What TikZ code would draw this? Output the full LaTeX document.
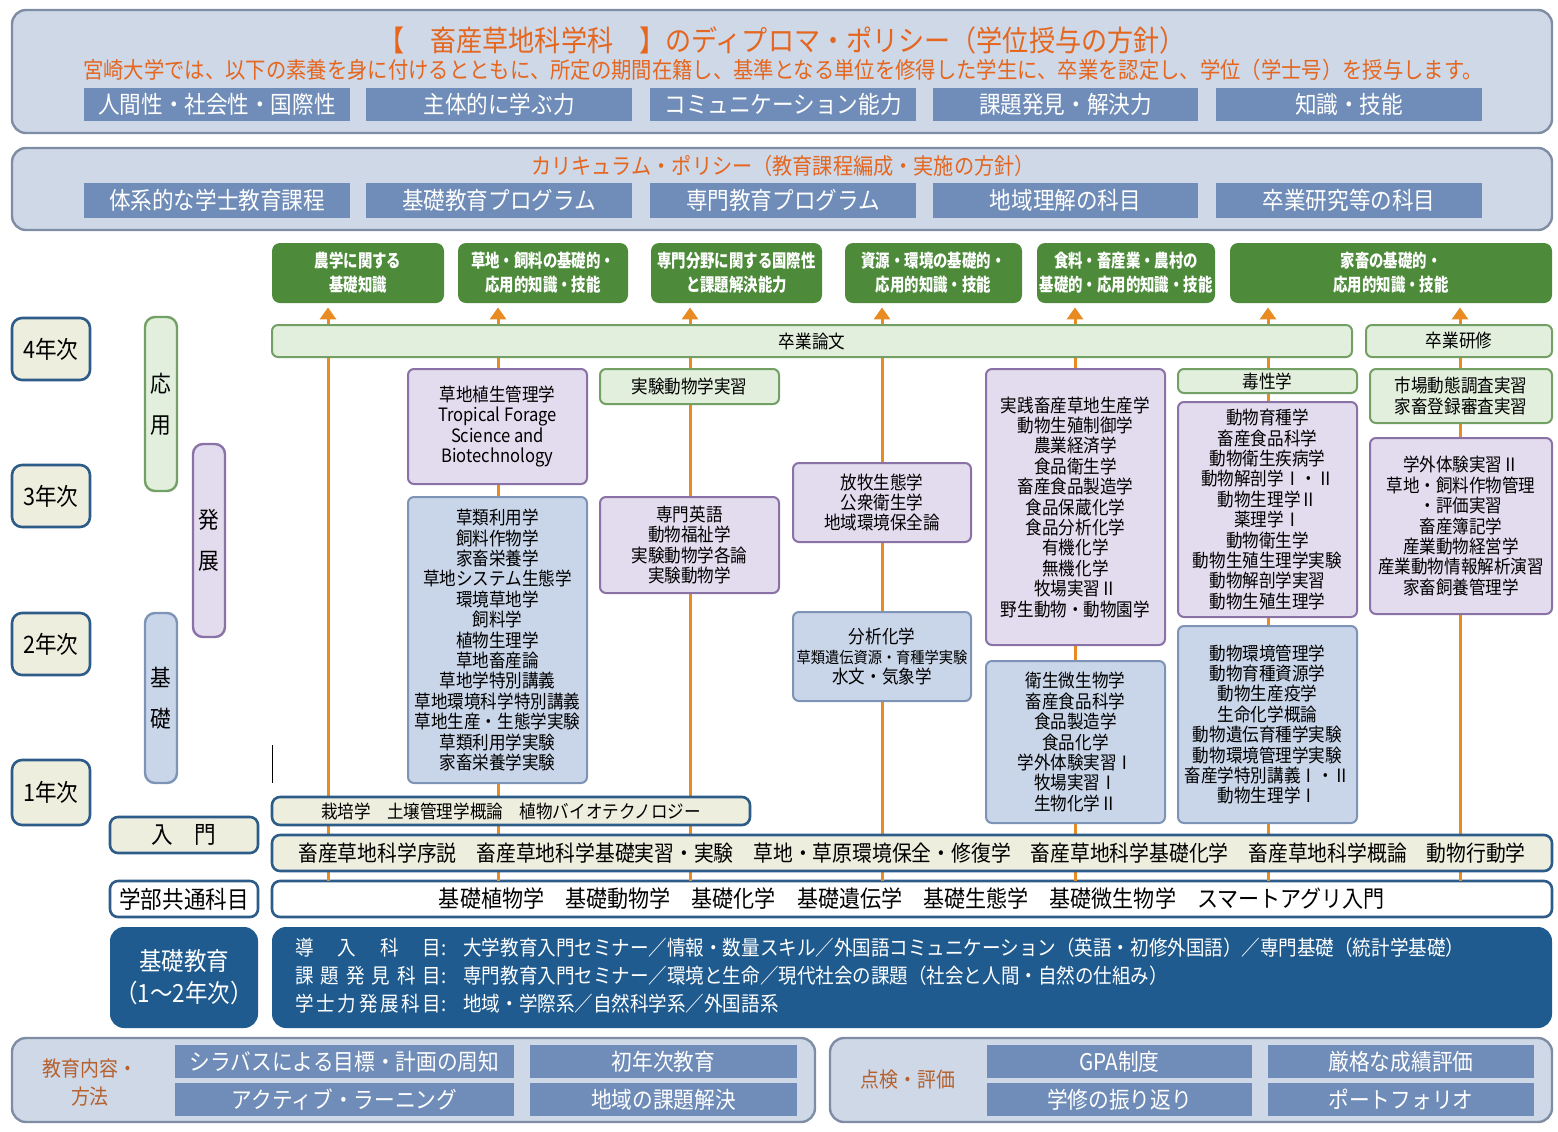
\documentclass[tikz,border=0pt]{standalone}
\usepackage{fontspec}
\setmainfont{Noto Sans CJK JP}[FakeStretch=0.9]
\newfontfamily\narrowfont{Noto Sans CJK JP}[FakeStretch=0.8]
\usetikzlibrary{arrows.meta,fit}
\definecolor{panelfill}{HTML}{CFD8E7}
\definecolor{panelline}{HTML}{7E8CA4}
\definecolor{itemblue}{HTML}{6F8DB8}
\definecolor{dporange}{HTML}{E4661F}
\definecolor{outgreen}{HTML}{4D8B3B}
\definecolor{feedorange}{HTML}{E88B22}
\definecolor{thesisfill}{HTML}{E2EFDD}
\definecolor{thesisline}{HTML}{73A064}
\definecolor{advfill}{HTML}{E3DCEE}
\definecolor{advline}{HTML}{8A72A6}
\definecolor{basicfill}{HTML}{C9D5E8}
\definecolor{basicline}{HTML}{7D94B6}
\definecolor{creamfill}{HTML}{EEEEDF}
\definecolor{navyline}{HTML}{2D5C88}
\definecolor{darkblue}{HTML}{1F5B8F}
\definecolor{brownorange}{HTML}{B5612F}

\begin{document}
\begin{tikzpicture}[
  x=0.5pt,
  y=-0.5pt,
  line join=round,
  panel/.style={draw=panelline,fill=panelfill,line width=1.2pt,rounded corners=7pt,inner sep=0pt},
  policyitem/.style={fill=itemblue,inner sep=0pt},
  itemtext/.style={text=white,inner sep=0pt,font=\fontsize{12}{14}\selectfont},
  headline/.style={text=dporange,inner sep=0pt},
  outcome/.style={fill=outgreen,rounded corners=4pt,inner sep=0pt},
  outtext/.style={text=white,inner sep=0pt,align=center,font=\narrowfont\bfseries\fontsize{9}{12}\selectfont},
  thesis/.style={draw=thesisline,fill=thesisfill,line width=1pt,rounded corners=3pt,inner sep=0pt},
  advanced/.style={thesis,draw=advline,fill=advfill},
  basic/.style={thesis,draw=basicline,fill=basicfill},
  coursetext/.style={inner sep=0pt,align=center,font=\fontsize{9.2}{10.2}\selectfont},
  stagebar/.style={line width=1.2pt,rounded corners=5pt,inner sep=0pt},
  stagetext/.style={inner sep=0pt,align=center,font=\fontsize{11.5}{20.5}\selectfont},
  year/.style={draw=navyline,fill=creamfill,line width=1.3pt,rounded corners=5pt,inner sep=0pt},
  yeartext/.style={inner sep=0pt,font=\fontsize{12}{14}\selectfont},
  intro/.style={draw=navyline,fill=creamfill,line width=1.3pt,rounded corners=4pt,inner sep=0pt},
  introtext/.style={inner sep=0pt,font=\fontsize{11}{13}\selectfont},
  common/.style={intro,fill=white},
  general/.style={fill=darkblue,rounded corners=7pt,inner sep=0pt},
  generaltext/.style={text=white,inner sep=0pt,align=left,font=\fontsize{10.3}{14}\selectfont},
  method/.style={text=brownorange,inner sep=0pt,align=center,font=\fontsize{10.5}{14}\selectfont},
  feed/.style={draw=feedorange,line width=1.5pt,-{Triangle[width=8pt,length=6pt]},shorten >=2pt}
]
  \useasboundingbox (0,0) rectangle (1558,1131);

  % Diploma policy panel
  \node[panel,fit={(12,10) (1552,133)}] (dp) {};
  \node[headline,font=\fontsize{14.5}{16}\selectfont] (dptitle) at (782,40) {【　畜産草地科学科　】のディプロマ・ポリシー（学位授与の方針）};
  \node[headline,font=\fontsize{11.3}{13}\selectfont] (dplead) at (783,70) {宮崎大学では、以下の素養を身に付けるとともに、所定の期間在籍し、基準となる単位を修得した学生に、卒業を認定し、学位（学士号）を授与します。};
  \node[policyitem,fit={(84,88) (350,121)},label={[itemtext]center:人間性・社会性・国際性}] (dp1) {};
  \node[policyitem,fit={(366,88) (632,121)},label={[itemtext]center:主体的に学ぶ力}] (dp2) {};
  \node[policyitem,fit={(650,88) (916,121)},label={[itemtext]center:コミュニケーション能力}] (dp3) {};
  \node[policyitem,fit={(933,88) (1198,121)},label={[itemtext]center:課題発見・解決力}] (dp4) {};
  \node[policyitem,fit={(1216,88) (1482,121)},label={[itemtext]center:知識・技能}] (dp5) {};

  % Curriculum policy panel
  \node[panel,fit={(12,148) (1552,230)}] (cp) {};
  \node[headline,font=\fontsize{11.2}{13}\selectfont] (cptitle) at (783,166) {カリキュラム・ポリシー（教育課程編成・実施の方針）};
  \node[policyitem,fit={(84,183) (350,218)},label={[itemtext]center:体系的な学士教育課程}] (cp1) {};
  \node[policyitem,fit={(366,183) (632,218)},label={[itemtext]center:基礎教育プログラム}] (cp2) {};
  \node[policyitem,fit={(650,183) (916,218)},label={[itemtext]center:専門教育プログラム}] (cp3) {};
  \node[policyitem,fit={(933,183) (1198,218)},label={[itemtext]center:地域理解の科目}] (cp4) {};
  \node[policyitem,fit={(1216,183) (1482,218)},label={[itemtext]center:卒業研究等の科目}] (cp5) {};

  % Learning outcomes
  \node[outcome,fit={(272,243) (444,303)},label={[outtext]center:{農学に関する\\基礎知識}}] (out1) {};
  \node[outcome,fit={(458,243) (628,303)},label={[outtext]center:{草地・飼料の基礎的・\\応用的知識・技能}}] (out2) {};
  \node[outcome,fit={(651,243) (822,303)},label={[outtext]center:{専門分野に関する国際性\\と課題解決能力}}] (out3) {};
  \node[outcome,fit={(845,243) (1022,303)},label={[outtext]center:{資源・環境の基礎的・\\応用的知識・技能}}] (out4) {};
  \node[outcome,fit={(1037,243) (1215,303)},label={[outtext]center:{食料・畜産業・農村の\\基礎的・応用的知識・技能}}] (out5) {};
  \node[outcome,fit={(1230,243) (1552,303)},label={[outtext]center:{家畜の基礎的・\\応用的知識・技能}}] (out6) {};

  % Faculty-wide row, where the feeds start
  \node[common,fit={(272,881) (1552,917)},label={[introtext,font=\fontsize{11.7}{14}\selectfont]center:基礎植物学　基礎動物学　基礎化学　基礎遺伝学　基礎生態学　基礎微生物学　スマートアグリ入門}] (kyotsu) {};

  % Orange feeds run behind the course boxes
  \foreach \x/\o [count=\i] in {328/out1,498/out2,690/out3,882/out4,1075/out5,1268/out6,1460/out6} {
    \coordinate (foot\i) at (\x,881);
    \draw[feed] (foot\i) -- (foot\i |- \o.south);
  }

  % Year labels and stages
  \node[year,fit={(12,318) (90,380)},label={[yeartext]center:4年次}] (y4) {};
  \node[year,fit={(12,465) (90,527)},label={[yeartext]center:3年次}] (y3) {};
  \node[year,fit={(12,613) (90,675)},label={[yeartext]center:2年次}] (y2) {};
  \node[year,fit={(12,760) (90,825)},label={[yeartext]center:1年次}] (y1) {};
  \node[stagebar,draw=thesisline,fill=thesisfill,fit={(145,317) (177,491)},label={[stagetext]center:{応\\用}}] (ouyou) {};
  \node[stagebar,draw=advline,fill=advfill,fit={(193,444) (225,637)},label={[stagetext]center:{発\\展}}] (hatten) {};
  \node[stagebar,draw=basicline,fill=basicfill,fit={(145,613) (177,783)},label={[stagetext]center:{基\\礎}}] (kiso) {};
  \draw[line width=0.5pt] (272,745) -- (272,783);

  % Graduation work
  \node[thesis,fit={(272,325) (1352,357)},label={[coursetext]center:卒業論文}] (ronbun) {};
  \node[thesis,fit={(1366,325) (1552,357)},label={[coursetext]center:卒業研修}] (kenshu) {};

  % Grassland column
  \node[advanced,fit={(408,369) (587,484)},label={[coursetext]center:{草地植生管理学\\Tropical Forage\\Science and\\Biotechnology}}] (grassAdv) {};
  \node[basic,fit={(408,497) (587,783)},label={[coursetext]center:{草類利用学\\飼料作物学\\家畜栄養学\\草地システム生態学\\環境草地学\\飼料学\\植物生理学\\草地畜産論\\草地学特別講義\\草地環境科学特別講義\\草地生産・生態学実験\\草類利用学実験\\家畜栄養学実験}}] (grassBase) {};

  % Laboratory animal column
  \node[thesis,fit={(600,369) (779,404)},label={[coursetext]center:実験動物学実習}] (labPrac) {};
  \node[advanced,fit={(600,497) (779,593)},label={[coursetext]center:{専門英語\\動物福祉学\\実験動物学各論\\実験動物学}}] (labAdv) {};

  % Environment column
  \node[advanced,fit={(793,463) (971,542)},label={[coursetext]center:{放牧生態学\\公衆衛生学\\地域環境保全論}}] (envAdv) {};
  \node[basic,fit={(793,612) (971,701)},label={[coursetext]center:{分析化学\\{\fontsize{7.9}{10.2}\selectfont 草類遺伝資源・育種学実験}\\水文・気象学}}] (envBase) {};

  % Food and farm column
  \node[advanced,fit={(986,369) (1165,645)},label={[coursetext]center:{実践畜産草地生産学\\動物生殖制御学\\農業経済学\\食品衛生学\\畜産食品製造学\\食品保蔵化学\\食品分析化学\\有機化学\\無機化学\\牧場実習Ⅱ\\野生動物・動物園学}}] (foodAdv) {};
  \node[basic,fit={(986,661) (1165,823)},label={[coursetext]center:{衛生微生物学\\畜産食品科学\\食品製造学\\食品化学\\学外体験実習Ⅰ\\牧場実習Ⅰ\\生物化学Ⅱ}}] (foodBase) {};

  % Livestock column
  \node[thesis,fit={(1178,369) (1357,393)},label={[coursetext]center:毒性学}] (toxic) {};
  \node[advanced,fit={(1178,402) (1357,617)},label={[coursetext]center:{動物育種学\\畜産食品科学\\動物衛生疾病学\\動物解剖学Ⅰ・Ⅱ\\動物生理学Ⅱ\\薬理学Ⅰ\\動物衛生学\\動物生殖生理学実験\\動物解剖学実習\\動物生殖生理学}}] (animalAdv) {};
  \node[basic,fit={(1178,626) (1357,823)},label={[coursetext]center:{動物環境管理学\\動物育種資源学\\動物生産疫学\\生命化学概論\\動物遺伝育種学実験\\動物環境管理学実験\\畜産学特別講義Ⅰ・Ⅱ\\動物生理学Ⅰ}}] (animalBase) {};

  % Farm management column
  \node[thesis,fit={(1370,369) (1552,423)},label={[coursetext]center:{市場動態調査実習\\家畜登録審査実習}}] (market) {};
  \node[advanced,fit={(1370,438) (1552,614)},label={[coursetext]center:{学外体験実習Ⅱ\\草地・飼料作物管理\\・評価実習\\畜産簿記学\\産業動物経営学\\産業動物情報解析演習\\家畜飼養管理学}}] (farmAdv) {};

  % Introductory rows
  \node[intro,fit={(272,797) (750,825)},label={[coursetext]center:栽培学　土壌管理学概論　植物バイオテクノロジー}] (intro1) {};
  \node[intro,fit={(272,835) (1552,871)},label={[introtext]center:畜産草地科学序説　畜産草地科学基礎実習・実験　草地・草原環境保全・修復学　畜産草地科学基礎化学　畜産草地科学概論　動物行動学}] (intro2) {};
  \node[intro,fit={(110,817) (258,853)},label={[yeartext]center:入　門}] (nyumon) {};
  \node[common,fit={(110,881) (258,917)},label={[yeartext]center:学部共通科目}] (kyotsuLab) {};

  % General education
  \node[general,fit={(110,927) (258,1028)},label={[generaltext,align=center,font=\fontsize{12.5}{16}\selectfont]center:{基礎教育\\（1〜2年次）}}] (kisoLab) {};
  \node[general,fit={(272,927) (1552,1028)}] (kisoMain) {};
  \node[generaltext,anchor=west] (kisoKind) at (295,976) {\makebox[75.5pt][s]{導\hfill 入\hfill 科\hfill 目:}\\\makebox[75.5pt][s]{課\hfill 題\hfill 発\hfill 見\hfill 科\hfill 目:}\\\makebox[75.5pt][s]{学\hfill 士\hfill 力\hfill 発\hfill 展\hfill 科\hfill 目:}};
  \node[generaltext,anchor=west] (kisoList) at (463,976) {大学教育入門セミナー／情報・数量スキル／外国語コミュニケーション（英語・初修外国語）／専門基礎（統計学基礎）\\専門教育入門セミナー／環境と生命／現代社会の課題（社会と人間・自然の仕組み）\\地域・学際系／自然科学系／外国語系};

  % Methods and assessment
  \node[panel,fit={(12,1038) (815,1122)}] (methods) {};
  \node[method] (methodLab) at (90,1083) {教育内容・\\方法};
  \node[policyitem,fit={(175,1045) (514,1078)},label={[itemtext,font=\fontsize{11.5}{13}\selectfont]center:シラバスによる目標・計画の周知}] (m1) {};
  \node[policyitem,fit={(530,1045) (797,1078)},label={[itemtext,font=\fontsize{11.5}{13}\selectfont]center:初年次教育}] (m2) {};
  \node[policyitem,fit={(175,1083) (514,1116)},label={[itemtext,font=\fontsize{11.5}{13}\selectfont]center:アクティブ・ラーニング}] (m3) {};
  \node[policyitem,fit={(530,1083) (797,1116)},label={[itemtext,font=\fontsize{11.5}{13}\selectfont]center:地域の課題解決}] (m4) {};
  \node[panel,fit={(830,1038) (1552,1122)}] (checks) {};
  \node[method] (checkLab) at (908,1080) {点検・評価};
  \node[policyitem,fit={(987,1045) (1252,1078)},label={[itemtext,font=\fontsize{11.5}{13}\selectfont]center:GPA制度}] (c1) {};
  \node[policyitem,fit={(1268,1045) (1534,1078)},label={[itemtext,font=\fontsize{11.5}{13}\selectfont]center:厳格な成績評価}] (c2) {};
  \node[policyitem,fit={(987,1083) (1252,1116)},label={[itemtext,font=\fontsize{11.5}{13}\selectfont]center:学修の振り返り}] (c3) {};
  \node[policyitem,fit={(1268,1083) (1534,1116)},label={[itemtext,font=\fontsize{11.5}{13}\selectfont]center:ポートフォリオ}] (c4) {};
\end{tikzpicture}
\end{document}
